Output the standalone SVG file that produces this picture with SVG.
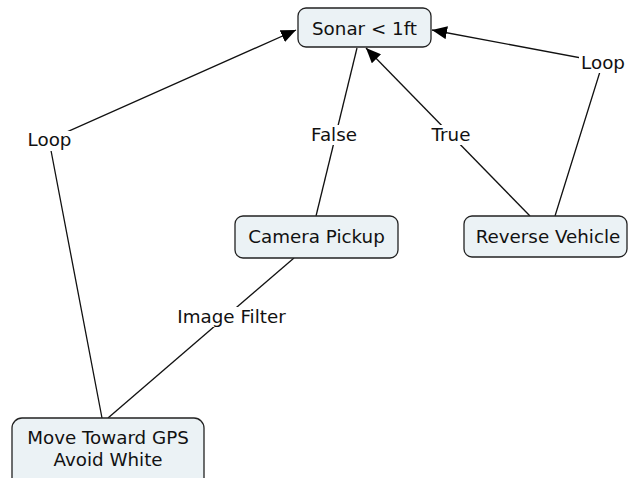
<svg xmlns="http://www.w3.org/2000/svg" width="629" height="478" viewBox="0 0 629 478">
<defs>
<marker id="arr" viewBox="0 0 15 13" refX="15" refY="6.5" markerWidth="15" markerHeight="13" markerUnits="userSpaceOnUse" orient="auto">
<path d="M0,0 L15,6.5 L0,13 Z" fill="#000"/>
</marker>
<style>
.node rect{fill:#ebf2f5;stroke:#222;stroke-width:1.3}
text{font-family:"DejaVu Sans",Verdana,sans-serif;font-size:18.3px;fill:#111;text-anchor:middle}
.edge{fill:none;stroke:#111;stroke-width:1.3}
.lbg{fill:#fff}
</style>
</defs>
<rect width="629" height="478" fill="#fff"/>
<g id="connectors">
<path class="edge" d="M102,418 L49,140 L296,30" marker-end="url(#arr)"/>
<path class="edge" d="M555,216 L603,62 L432,30" marker-end="url(#arr)"/>
<path class="edge" d="M530,216 L366,48" marker-end="url(#arr)"/>
<path class="edge" d="M357,48 L316,216"/>
<path class="edge" d="M108,418 L294,258"/>
<g id="labels">
<rect class="lbg" x="26" y="131" width="48" height="20"/>
<text x="49.5" y="146">Loop</text>
<rect class="lbg" x="579" y="53" width="49" height="20"/>
<text x="603" y="69">Loop</text>
<rect class="lbg" x="310" y="125" width="49" height="20"/>
<text x="334" y="141">False</text>
<rect class="lbg" x="427" y="125" width="48" height="20"/>
<text x="451" y="141">True</text>
<rect class="lbg" x="172" y="307" width="119" height="20"/>
<text x="231.5" y="323">Image Filter</text>
</g>
</g>
<g id="sonar" class="node">
<rect x="298" y="8" width="133" height="39" rx="8"/>
<text x="364.5" y="35">Sonar &lt; 1ft</text>
</g>
<g id="camera" class="node">
<rect x="235" y="216" width="163" height="42" rx="8"/>
<text x="316.5" y="243">Camera Pickup</text>
</g>
<g id="reverse" class="node">
<rect x="464" y="216" width="163" height="41" rx="8"/>
<text x="548" y="243">Reverse Vehicle</text>
</g>
<g id="move" class="node">
<rect x="12" y="418" width="192" height="70" rx="10"/>
<text x="108" y="444">Move Toward GPS</text>
<text x="108" y="466">Avoid White</text>
</g>
</svg>
